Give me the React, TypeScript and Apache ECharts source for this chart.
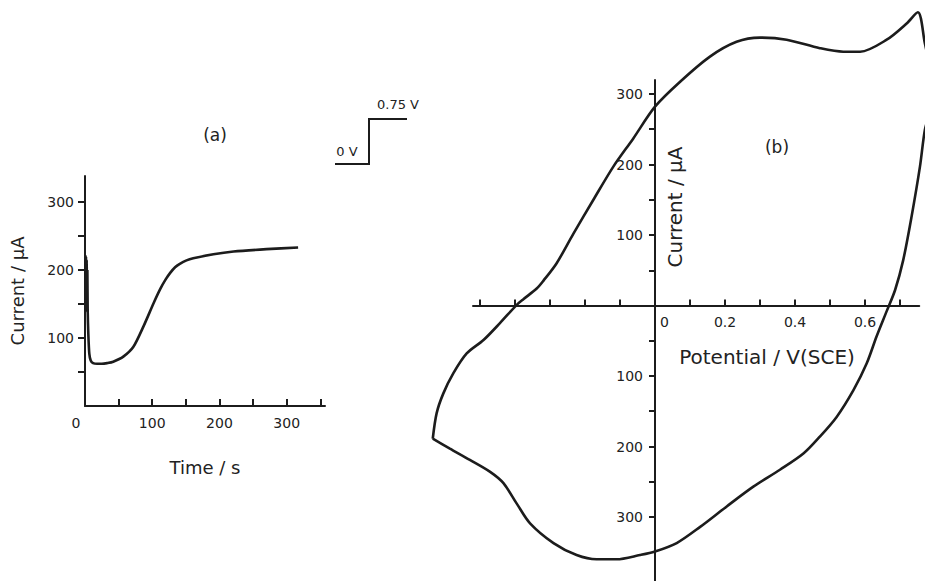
import React, { useEffect, useRef } from "react";
import * as echarts from "echarts";

// (a) chronoamperometry after a 0 V -> 0.75 V potential step
const timeS = [1, 1.5, 2, 2.5, 3, 3.5, 4, 4.9, 6.4, 8.5, 12, 18, 25, 33, 42, 57, 72, 87, 102, 112, 120, 127, 134, 141, 151, 161, 191, 221, 270, 317];
const currentA = [140, 220, 145, 215, 138, 200, 140, 107, 77, 67, 63, 62, 62, 63, 65, 72.5, 87, 117, 151, 172, 186, 196, 204, 209, 214, 217, 223, 227, 230.5, 233];

// (b) cyclic voltammogram (cathodic current negative, labelled by magnitude)
const potentialV = [
  -0.635, -0.624, -0.605, -0.576, -0.538, -0.49, -0.443, -0.395, -0.376, -0.338, -0.319, -0.281, -0.233, -0.176,
  -0.119, -0.062, 0, 0.071, 0.157, 0.233, 0.3, 0.376, 0.471, 0.538, 0.586, 0.662, 0.719, 0.751, 0.771, 0.784,
  0.79, 0.785, 0.771, 0.757, 0.733, 0.709, 0.686, 0.662, 0.633, 0.605, 0.567, 0.519, 0.471, 0.424, 0.357, 0.281,
  0.205, 0.129, 0.062, 0, -0.043, -0.11, -0.167, -0.224, -0.29, -0.357, -0.395, -0.433, -0.471, -0.529, -0.586, -0.635,
];
const currentB = [
  -189, -153, -125, -96, -68, -49, -25, 1, 9, 24, 35, 60, 102, 150,
  197, 237, 282, 317, 353, 374, 380, 377, 365, 360, 360, 377, 400, 416, 372, 340,
  305, 275, 249, 197, 126, 64, 22, -8, -44, -82, -120, -158, -186, -210, -233, -257,
  -285, -314, -337, -349, -354, -360, -360, -354, -337, -309, -281, -252, -236, -219, -203, -189,
];

// axis ticks and labels
const timeTicks = [50, 100, 150, 200, 250, 300, 350];
const timeLabels = [0, 100, 200, 300];
const curATicks = [50, 100, 150, 200, 250, 300];
const curALabels = [100, 200, 300];
const potTicks = [-0.5, -0.4, -0.3, -0.2, -0.1, 0.1, 0.2, 0.3, 0.4, 0.5, 0.6, 0.7];
const potLabels = [0, 0.2, 0.4, 0.6];
const curBTicks = [-300, -250, -200, -150, -100, -50, 50, 100, 150, 200, 250, 300];
const curBLabels = [-300, -200, -100, 100, 200, 300];

const INK = "#1c1c1c";
const TEXT = "#222222";
const FONT = "DejaVu Sans";

// panel (b) scale: pixels per volt and per µA, origin of the crossing axes
const B_X0 = 655;
const B_Y0 = 305.5;
const B_PX_PER_V = 350;
const B_PX_PER_UA = 0.705;

export default function App() {
  const ref = useRef<HTMLDivElement>(null);

  useEffect(() => {
    if (!ref.current) return;
    const chart = echarts.init(ref.current, undefined, { renderer: "svg" });

    const line = { show: true, onZero: false, lineStyle: { color: INK, width: 2 } };

    // visible axes of panel (b)
    const bxMin = -0.52, bxMax = 0.755, byMin = -390, byMax = 320;
    const bLeft = B_X0 + bxMin * B_PX_PER_V;
    const bTop = B_Y0 - byMax * B_PX_PER_UA;
    const bWidth = (bxMax - bxMin) * B_PX_PER_V;
    const bHeight = (byMax - byMin) * B_PX_PER_UA;
    // wider, hidden axes of panel (b) carrying the loop at the same scale
    const cxMin = -0.66, cxMax = 0.81, cyMin = -390, cyMax = 433;
    const cLeft = B_X0 + cxMin * B_PX_PER_V;
    const cTop = B_Y0 - cyMax * B_PX_PER_UA;
    const cWidth = (cxMax - cxMin) * B_PX_PER_V;
    const cHeight = (cyMax - cyMin) * B_PX_PER_UA;

    chart.setOption({
      animation: false,
      backgroundColor: "#ffffff",
      textStyle: { fontFamily: FONT, color: TEXT },
      grid: [
        { left: 85, top: 176, width: 240, height: 230, outerBoundsMode: "none" },
        { left: bLeft, top: bTop, width: bWidth, height: bHeight, outerBoundsMode: "none" },
        { left: cLeft, top: cTop, width: cWidth, height: cHeight, outerBoundsMode: "none" },
      ],
      xAxis: [
        {
          type: "value",
          gridIndex: 0,
          min: 0,
          max: 357,
          axisLine: line,
          splitLine: { show: false },
          axisTick: { show: true, inside: true, length: 7, customValues: timeTicks, lineStyle: { color: INK, width: 2 } },
          axisLabel: {
            customValues: timeLabels,
            margin: 10,
            fontSize: 14,
            fontFamily: FONT,
            color: TEXT,
            formatter: (v: number) => (v === 0 ? "{z|0}" : String(v)),
            rich: { z: { padding: [0, 18, 0, 0], fontSize: 14, fontFamily: FONT, color: TEXT } },
          },
          name: "Time / s",
          nameLocation: "middle",
          nameGap: 52,
          nameTextStyle: { fontSize: 18, fontFamily: FONT, color: TEXT },
        },
        {
          type: "value",
          gridIndex: 1,
          min: bxMin,
          max: bxMax,
          position: "bottom",
          offset: -(bTop + bHeight - B_Y0),
          axisLine: line,
          splitLine: { show: false },
          axisTick: { show: true, inside: true, length: 6, customValues: potTicks, lineStyle: { color: INK, width: 2 } },
          axisLabel: {
            customValues: potLabels,
            margin: 9,
            fontSize: 14,
            fontFamily: FONT,
            color: TEXT,
            formatter: (v: number) => (v === 0 ? "{z|0}" : String(v)),
            rich: { z: { padding: [0, 0, 0, 19], fontSize: 14, fontFamily: FONT, color: TEXT } },
          },
        },
        { type: "value", gridIndex: 2, min: cxMin, max: cxMax, show: false },
      ],
      yAxis: [
        {
          type: "value",
          gridIndex: 0,
          min: 0,
          max: 338,
          axisLine: line,
          splitLine: { show: false },
          axisTick: { show: true, inside: false, length: 7, customValues: curATicks, lineStyle: { color: INK, width: 2 } },
          axisLabel: { customValues: curALabels, margin: 11, fontSize: 14, fontFamily: FONT, color: TEXT },
          name: "Current / μA",
          nameLocation: "middle",
          nameGap: 59,
          nameRotate: 90,
          nameTextStyle: { fontSize: 18, fontFamily: FONT, color: TEXT },
        },
        {
          type: "value",
          gridIndex: 1,
          min: byMin,
          max: byMax,
          position: "left",
          offset: -(B_X0 - bLeft),
          axisLine: line,
          splitLine: { show: false },
          axisTick: { show: true, inside: false, length: 6, customValues: curBTicks, lineStyle: { color: INK, width: 2 } },
          axisLabel: {
            customValues: curBLabels,
            margin: 12,
            fontSize: 14,
            fontFamily: FONT,
            color: TEXT,
            formatter: (v: number) => String(Math.abs(v)),
          },
        },
        { type: "value", gridIndex: 2, min: cyMin, max: cyMax, show: false },
      ],
      series: [
        {
          type: "line",
          xAxisIndex: 0,
          yAxisIndex: 0,
          data: timeS.map((t, i) => [t, currentA[i]]),
          showSymbol: false,
          smooth: 0.25,
          clip: false,
          lineStyle: { color: INK, width: 2.6 },
        },
        {
          type: "line",
          xAxisIndex: 2,
          yAxisIndex: 2,
          data: potentialV.map((v, i) => [v, currentB[i]]),
          showSymbol: false,
          smooth: 0.3,
          clip: false,
          lineStyle: { color: INK, width: 2.6 },
        },
      ],
      graphic: [
        { type: "text", x: 215, y: 135, style: { text: "(a)", fontSize: 17, fontFamily: FONT, fill: TEXT, align: "center", verticalAlign: "middle" } },
        { type: "text", x: 777, y: 147, style: { text: "(b)", fontSize: 17, fontFamily: FONT, fill: TEXT, align: "center", verticalAlign: "middle" } },
        {
          type: "text",
          x: 675,
          y: 207,
          rotation: Math.PI / 2,
          style: { text: "Current / μA", fontSize: 20, fontFamily: FONT, fill: TEXT, align: "center", verticalAlign: "middle" },
        },
        { type: "text", x: 767, y: 357, style: { text: "Potential / V(SCE)", fontSize: 20, fontFamily: FONT, fill: TEXT, align: "center", verticalAlign: "middle" } },
        // potential-step inset
        { type: "polyline", shape: { points: [[335, 164], [369, 164], [369, 119], [407, 119]] }, style: { stroke: INK, lineWidth: 2, fill: "none" } },
        { type: "text", x: 347, y: 151, style: { text: "0 V", fontSize: 13, fontFamily: FONT, fill: TEXT, align: "center", verticalAlign: "middle" } },
        { type: "text", x: 398, y: 104, style: { text: "0.75 V", fontSize: 13, fontFamily: FONT, fill: TEXT, align: "center", verticalAlign: "middle" } },
      ],
    });

    return () => chart.dispose();
  }, []);

  return <div ref={ref} style={{ position: "fixed", left: 0, top: 0, width: 925, height: 581 }} />;
}
